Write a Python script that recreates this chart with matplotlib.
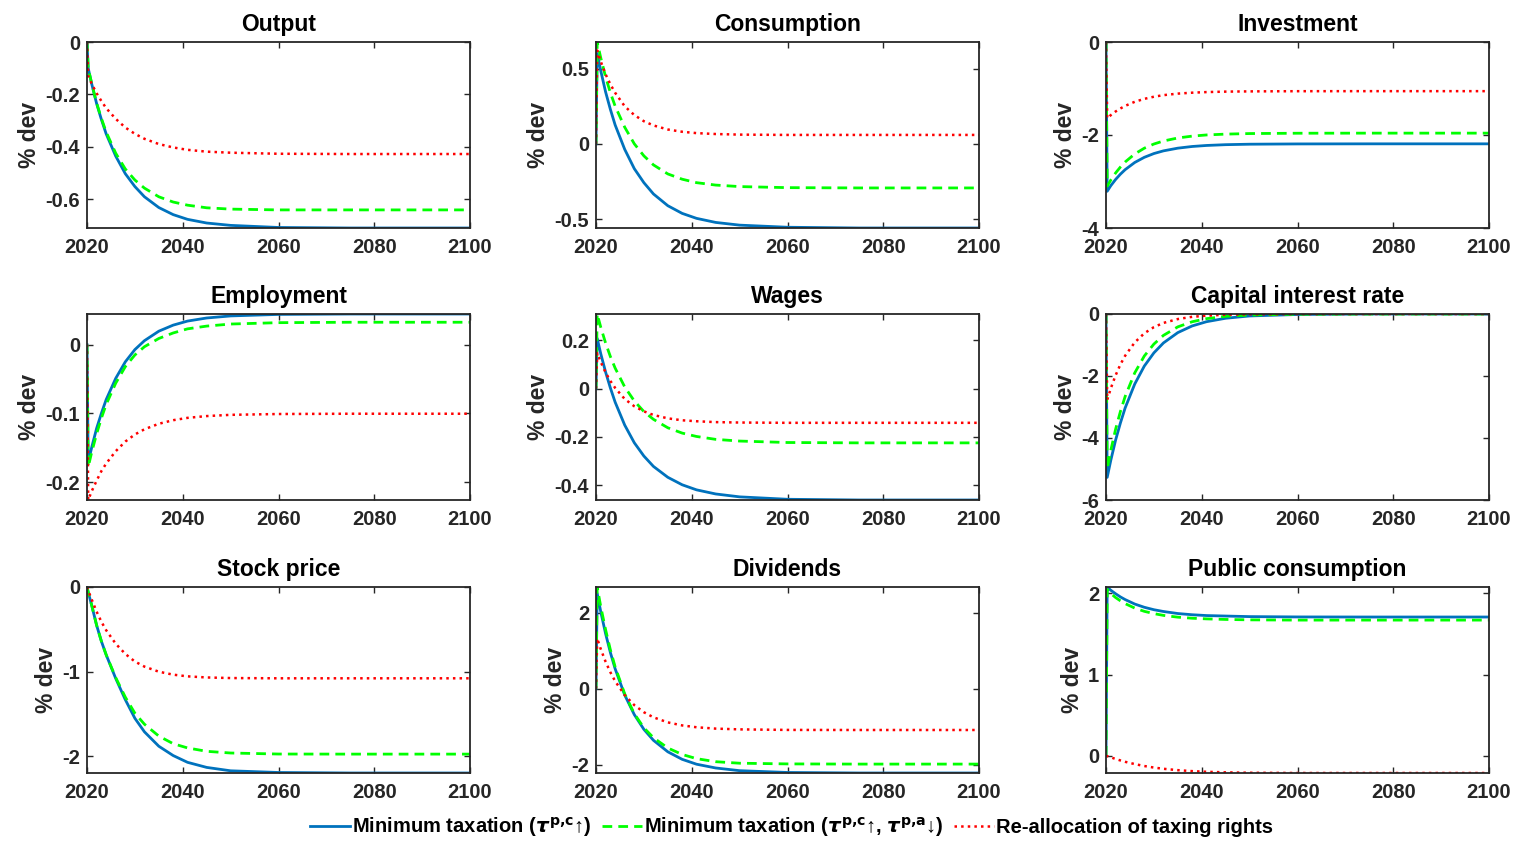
import numpy as np
import matplotlib
matplotlib.use("Agg")
import matplotlib.pyplot as plt

plt.rcParams['font.family'] = ['Liberation Sans', 'DejaVu Sans']
plt.rcParams['font.weight'] = 'bold'
plt.rcParams['axes.unicode_minus'] = False
plt.rcParams['mathtext.fontset'] = 'dejavusans'

# years of the simulation
years = [2020, 2020.25, 2021, 2022, 2023, 2024, 2026, 2028, 2030, 2032,
         2035, 2038, 2041, 2045, 2050, 2060, 2075, 2100]

# Output
output_min = [0, -0.10, -0.161, -0.234, -0.295, -0.350, -0.435, -0.502, -0.551, -0.590,
              -0.631, -0.658, -0.676, -0.690, -0.699, -0.707, -0.709, -0.709]
output_min2 = [0, -0.10, -0.16, -0.232, -0.291, -0.343, -0.424, -0.484, -0.526, -0.557,
               -0.590, -0.610, -0.622, -0.632, -0.637, -0.640, -0.640, -0.640]
output_re = [0, -0.13, -0.160, -0.195, -0.225, -0.252, -0.293, -0.326, -0.350, -0.369,
             -0.389, -0.402, -0.411, -0.418, -0.422, -0.426, -0.427, -0.427]

# Consumption
cons_min = [0, 0.60, 0.484, 0.345, 0.229, 0.125, -0.037, -0.165, -0.258, -0.333,
            -0.411, -0.462, -0.495, -0.522, -0.540, -0.554, -0.559, -0.559]
cons_min2 = [0, 0.676, 0.57, 0.445, 0.34, 0.25, 0.11, 0.0, -0.08, -0.14,
             -0.2, -0.235, -0.258, -0.274, -0.284, -0.291, -0.293, -0.293]
cons_re = [0, 0.62, 0.546, 0.462, 0.395, 0.339, 0.249, 0.191, 0.150, 0.122,
           0.095, 0.080, 0.071, 0.065, 0.061, 0.059, 0.059, 0.059]

# Investment
inv_min = [0, -3.21, -3.09, -2.957, -2.843, -2.745, -2.591, -2.48, -2.399, -2.341,
           -2.283, -2.247, -2.225, -2.208, -2.198, -2.192, -2.19, -2.19]
inv_min2 = [0, -3.1, -2.969, -2.817, -2.69, -2.58, -2.408, -2.284, -2.194, -2.129,
            -2.064, -2.024, -1.999, -1.981, -1.969, -1.962, -1.96, -1.96]
inv_re = [0, -1.64, -1.573, -1.495, -1.430, -1.374, -1.286, -1.223, -1.177, -1.143,
          -1.110, -1.09, -1.077, -1.067, -1.062, -1.058, -1.057, -1.057]

# Employment
emp_min = [0, -0.171, -0.149, -0.122, -0.100, -0.080, -0.049, -0.025, -0.0072, 0.0058,
           0.0196, 0.0284, 0.0343, 0.0388, 0.0418, 0.044, 0.0446, 0.0446]
emp_min2 = [0, -0.178, -0.156, -0.130, -0.107, -0.087, -0.056, -0.032, -0.015, -0.003,
            0.009, 0.017, 0.023, 0.027, 0.030, 0.032, 0.0326, 0.0326]
emp_re = [0, -0.226, -0.213, -0.198, -0.184, -0.173, -0.155, -0.141, -0.1307, -0.1231,
          -0.1151, -0.1099, -0.1065, -0.1039, -0.1021, -0.1009, -0.1005, -0.1005]

# Wages
wage_min = [0, 0.208, 0.144, 0.069, 0.003, -0.056, -0.151, -0.224, -0.279, -0.322,
            -0.367, -0.398, -0.419, -0.436, -0.448, -0.458, -0.461, -0.461]
wage_min2 = [0, 0.309, 0.254, 0.189, 0.133, 0.085, 0.007, -0.051, -0.095, -0.127,
             -0.162, -0.184, -0.198, -0.21, -0.217, -0.223, -0.2245, -0.2245]
wage_re = [0, 0.147, 0.110, 0.067, 0.032, 0.003, -0.043, -0.073, -0.094, -0.109,
           -0.123, -0.131, -0.135, -0.1386, -0.1403, -0.1415, -0.1415, -0.1415]

# Capital interest rate
rate_min = [0, -5.27, -4.72, -4.07, -3.52, -3.03, -2.26, -1.68, -1.254, -0.933,
            -0.60, -0.385, -0.248, -0.137, -0.063, -0.016, 0, 0]
rate_min2 = [0, -5.0, -4.4, -3.72, -3.15, -2.66, -1.90, -1.355, -0.97, -0.69,
             -0.415, -0.25, -0.15, -0.075, -0.033, -0.006, 0, 0]
rate_re = [0, -2.77, -2.40, -1.98, -1.63, -1.346, -0.917, -0.623, -0.424, -0.288,
           -0.163, -0.091, -0.053, -0.024, -0.01, -0.001, 0, 0]

# Stock price
stock_min = [0, -0.06, -0.22, -0.45, -0.64, -0.80, -1.08, -1.33, -1.55, -1.71,
             -1.88, -1.99, -2.07, -2.13, -2.17, -2.19, -2.196, -2.196]
stock_min2 = [0, -0.06, -0.22, -0.45, -0.64, -0.80, -1.07, -1.30, -1.49, -1.62,
              -1.76, -1.85, -1.90, -1.94, -1.96, -1.972, -1.973, -1.973]
stock_re = [0, -0.04, -0.15, -0.29, -0.41, -0.51, -0.67, -0.79, -0.88, -0.94,
            -1.00, -1.035, -1.055, -1.068, -1.075, -1.078, -1.078, -1.078]

# Dividends
div_min = [0, 2.5, 2.017, 1.446, 0.95, 0.52, -0.169, -0.683, -1.07, -1.358,
           -1.66, -1.858, -1.986, -2.085, -2.156, -2.203, -2.217, -2.217]
div_min2 = [0, 2.67, 2.15, 1.55, 1.02, 0.57, -0.14, -0.66, -1.03, -1.29,
            -1.56, -1.73, -1.84, -1.92, -1.96, -1.978, -1.983, -1.983]
div_re = [0, 1.32, 1.036, 0.708, 0.431, 0.195, -0.171, -0.434, -0.62, -0.754,
          -0.887, -0.967, -1.015, -1.051, -1.071, -1.085, -1.087, -1.087]

# Public consumption
pub_min = [0, 2.08, 2.04, 1.997, 1.958, 1.925, 1.87, 1.83, 1.80, 1.778,
           1.753, 1.738, 1.728, 1.722, 1.715, 1.711, 1.71, 1.71]
pub_min2 = [0, 2.05, 2.0, 1.95, 1.91, 1.875, 1.82, 1.78, 1.752, 1.73,
            1.708, 1.695, 1.687, 1.68, 1.675, 1.672, 1.672, 1.672]
pub_re = [0, -0.005, -0.02, -0.04, -0.058, -0.075, -0.103, -0.127, -0.146, -0.161,
          -0.178, -0.19, -0.198, -0.205, -0.21, -0.213, -0.213, -0.213]

titles = ['Output', 'Consumption', 'Investment', 'Employment', 'Wages',
          'Capital interest rate', 'Stock price', 'Dividends', 'Public consumption']
series = [(output_min, output_min2, output_re), (cons_min, cons_min2, cons_re),
          (inv_min, inv_min2, inv_re), (emp_min, emp_min2, emp_re),
          (wage_min, wage_min2, wage_re), (rate_min, rate_min2, rate_re),
          (stock_min, stock_min2, stock_re), (div_min, div_min2, div_re),
          (pub_min, pub_min2, pub_re)]
ylims = [(-0.709, 0), (-0.559, 0.676), (-4, 0), (-0.226, 0.0446), (-0.461, 0.309),
         (-6, 0), (-2.196, 0), (-2.217, 2.67), (-0.213, 2.08)]
yticks = [([-0.6, -0.4, -0.2, 0], ['-0.6', '-0.4', '-0.2', '0']),
          ([-0.5, 0, 0.5], ['-0.5', '0', '0.5']),
          ([-4, -2, 0], ['-4', '-2', '0']),
          ([-0.2, -0.1, 0], ['-0.2', '-0.1', '0']),
          ([-0.4, -0.2, 0, 0.2], ['-0.4', '-0.2', '0', '0.2']),
          ([-6, -4, -2, 0], ['-6', '-4', '-2', '0']),
          ([-2, -1, 0], ['-2', '-1', '0']),
          ([-2, 0, 2], ['-2', '0', '2']),
          ([0, 1, 2], ['0', '1', '2'])]

labels = [r'Minimum taxation ($\tau^{\mathbf{p{,}c}}$↑)',
          r'Minimum taxation ($\tau^{\mathbf{p{,}c}}$↑, $\tau^{\mathbf{p{,}a}}$↓)',
          'Re-allocation of taxing rights']

W, H = 1515, 843
fig = plt.figure(figsize=(W / 100, H / 100), dpi=100)
lefts = [87, 596, 1106]
tops = [42, 314, 587]
aw, ah = 383, 186
axc = '#262626'

handles = None
for i in range(9):
    r, c = divmod(i, 3)
    ax = fig.add_axes([lefts[c] / W, 1 - (tops[r] + ah) / H, aw / W, ah / H])
    b, g, rd = series[i]
    l1, = ax.plot(years, b, color='#0072BD', lw=2.0, ls='-')
    l2, = ax.plot(years, g, color='#00FF00', lw=2.0, ls='--', dashes=(3.5, 2.2))
    l3, = ax.plot(years, rd, color='#FF0000', lw=1.8, ls=':')
    handles = [l1, l2, l3]
    ax.set_xlim(2020, 2100)
    ax.set_ylim(*ylims[i])
    ax.set_xticks([2020, 2040, 2060, 2080, 2100])
    ax.set_yticks(yticks[i][0])
    ax.set_yticklabels(yticks[i][1])
    ax.tick_params(direction='in', top=True, right=True, length=4, width=1.0,
                   labelsize=14.5, colors=axc)
    ax.tick_params(axis='x', pad=7)
    ax.tick_params(axis='y', pad=5)
    for lab in ax.get_xticklabels() + ax.get_yticklabels():
        lab.set_fontweight('bold')
    for sp in ax.spines.values():
        sp.set_color(axc)
        sp.set_linewidth(1.3)
    ax.set_title(titles[i], fontsize=16.5, fontweight='bold', pad=8)
    ax.set_ylabel('% dev', fontsize=16.5, fontweight='bold', color=axc, labelpad=3)

fig.legend(handles, labels, loc='center', bbox_to_anchor=(0.5224, 0.019),
           ncol=3, frameon=False, handlelength=2.0, handletextpad=0.1,
           columnspacing=0.5, prop={'weight': 'bold', 'size': 14.5})

fig.savefig('out.png', dpi=100)
